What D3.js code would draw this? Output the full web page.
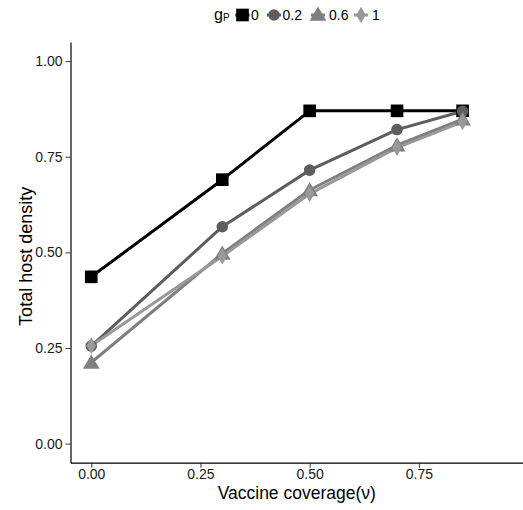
<!DOCTYPE html>
<html>
<head>
<meta charset="utf-8">
<script src="https://cdn.jsdelivr.net/npm/d3@7/dist/d3.min.js"></script>
<style>
  html, body { margin: 0; padding: 0; background: #fff; }
  svg text { font-family: "Liberation Sans", Arial, Helvetica, sans-serif; }
</style>
</head>
<body>
<svg id="chart" width="523" height="510"></svg>
<script>
// ---- data ----
const coverage = [0, 0.3, 0.5, 0.7, 0.85];
const groups = ["0", "0.2", "0.6", "1"];
const density_g0   = [0.436, 0.690, 0.870, 0.870, 0.870];
const density_g02  = [0.255, 0.567, 0.715, 0.821, 0.869];
const density_g06  = [0.212, 0.497, 0.663, 0.780, 0.848];
const density_g1   = [0.256, 0.490, 0.653, 0.774, 0.841];
const xTicks = [0, 0.25, 0.5, 0.75];
const yTicks = [0, 0.25, 0.5, 0.75, 1.0];
const xTitle = "Vaccine coverage(\u03bd)";
const yTitle = "Total host density";
const legendTitle = "g";
const legendSub = "P";

const seriesValues = [density_g0, density_g02, density_g06, density_g1];
const colors = ["#000000", "#5d5d5d", "#7f7f7f", "#999999"];
const shapes = ["square", "circle", "triangle", "diamond"];

const svg = d3.select("#chart");
const pLeft = 70.5, pRight = 527, pTop = 42, pBottom = 462.7;

const x = d3.scaleLinear().domain([-0.0475, 0.9975]).range([pLeft, pRight]);
const y = d3.scaleLinear().domain([-0.05, 1.05]).range([pBottom, pTop]);

const fmt = d3.format(".2f");

// axes
const xAxis = svg.append("g")
  .attr("transform", `translate(0,${pBottom})`)
  .call(d3.axisBottom(x).tickValues(xTicks).tickFormat(fmt).tickSize(5).tickSizeOuter(0));
const yAxis = svg.append("g")
  .attr("transform", `translate(${pLeft},0)`)
  .call(d3.axisLeft(y).tickValues(yTicks).tickFormat(fmt).tickSize(5).tickSizeOuter(0));

[xAxis, yAxis].forEach(a => {
  a.select(".domain").attr("stroke", "#000").attr("stroke-width", 1.2);
  a.selectAll(".tick line").attr("stroke", "#333").attr("stroke-width", 1);
  a.selectAll(".tick text").attr("fill", "#1a1a1a").style("font-size", "14px")
    .style("font-family", '"Liberation Sans", Arial, sans-serif');
});
xAxis.selectAll(".tick text").attr("dy", "0.71em").attr("y", 6);
yAxis.selectAll(".tick text").attr("x", -8);

// axis titles
svg.append("text")
  .attr("x", (pLeft + 523) / 2).attr("y", 499)
  .attr("text-anchor", "middle")
  .style("font-size", "17.5px").attr("fill", "#000")
  .text(xTitle);
svg.append("text")
  .attr("transform", `translate(32,${(pTop + pBottom) / 2 + 4}) rotate(-90)`)
  .attr("text-anchor", "middle")
  .style("font-size", "18px").attr("fill", "#000")
  .text(yTitle);

// symbol generator
function sym(shape, size) {
  const t = { square: d3.symbolSquare, circle: d3.symbolCircle,
              triangle: d3.symbolTriangle, diamond: d3.symbolDiamond }[shape];
  return d3.symbol().type(t).size(size)();
}
const sizes = { square: 160, circle: 105, triangle: 120, diamond: 80 };

const plot = svg.append("g");
const line = d3.line().x((d, i) => x(coverage[i])).y(d => y(d));

seriesValues.forEach((vals, k) => {
  plot.append("path")
    .attr("d", line(vals))
    .attr("fill", "none")
    .attr("stroke", colors[k])
    .attr("stroke-width", 3)
    .attr("stroke-linejoin", "round");
});
seriesValues.forEach((vals, k) => {
  plot.selectAll(null).data(vals).enter().append("path")
    .attr("transform", (d, i) => `translate(${x(coverage[i])},${y(d) + (shapes[k] === "triangle" ? 1.5 : 0)})`)
    .attr("d", sym(shapes[k], sizes[shapes[k]]))
    .attr("fill", colors[k]);
});

// legend
const leg = svg.append("g");
const lt = leg.append("text").attr("x", 214).attr("y", 20).style("font-size", "16px").attr("fill", "#000");
lt.append("tspan").text(legendTitle);
lt.append("tspan").attr("dy", 0.5).style("font-size", "10px").text(legendSub);

const keyX = [242.5, 274, 318, 361];
const labelOffset = [8.5, 8.5, 11, 11];
groups.forEach((g, k) => {
  const cx = keyX[k], cy = 15;
  leg.append("line").attr("x1", cx - 7).attr("x2", cx + 7).attr("y1", cy).attr("y2", cy)
    .attr("stroke", colors[k]).attr("stroke-width", 3);
  leg.append("path").attr("transform", `translate(${cx},${cy + (shapes[k] === "triangle" ? 1 : 0)})`)
    .attr("d", sym(shapes[k], sizes[shapes[k]])).attr("fill", colors[k]);
  leg.append("text").attr("x", cx + labelOffset[k]).attr("y", 20)
    .style("font-size", "14px").attr("fill", "#000").text(g);
});
</script>
</body>
</html>
